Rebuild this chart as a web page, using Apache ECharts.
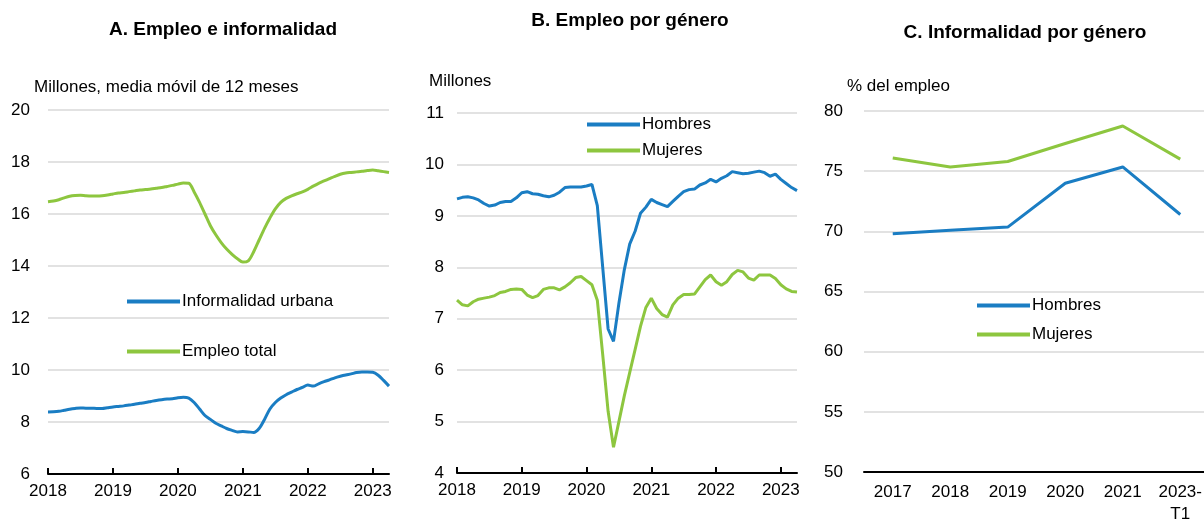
<!DOCTYPE html>
<html lang="es">
<head>
<meta charset="UTF-8">
<title>Empleo e informalidad</title>
<script src="https://cdn.jsdelivr.net/npm/echarts@6/dist/echarts.min.js"></script>
<style>
  * { margin: 0; padding: 0 }
  html, body { width: 100%; height: 100%; background: #fff }
  #main { width: 1204px; height: 522px }
</style>
</head>
<body>
<div id="main"></div>
<script>
// --- data ---
// monthly, 2018-01 .. 2023-04
var months = [];
for (var y = 2018; y <= 2023; y++) {
  for (var m = 1; m <= 12; m++) {
    if (y === 2023 && m > 4) break;
    months.push(y + '-' + (m < 10 ? '0' + m : m));
  }
}

// A. Empleo e informalidad (millones, media movil 12 meses)
var informalUrbana = [
  8.38, 8.39, 8.41, 8.45, 8.49, 8.52, 8.54, 8.53, 8.53, 8.52, 8.52, 8.55,
  8.58, 8.60, 8.62, 8.65, 8.68, 8.72, 8.75, 8.79, 8.83, 8.86, 8.88, 8.89,
  8.93, 8.95, 8.92, 8.75, 8.50, 8.25, 8.10, 7.95, 7.85, 7.75, 7.68, 7.62,
  7.63, 7.62, 7.60, 7.75, 8.10, 8.50, 8.75, 8.92, 9.05, 9.15, 9.25, 9.33,
  9.42, 9.38, 9.47, 9.55, 9.62, 9.70, 9.76, 9.81, 9.85, 9.90, 9.92, 9.92,
  9.91, 9.80, 9.60, 9.38
];
var empleoTotal = [
  16.47, 16.50, 16.55, 16.62, 16.68, 16.71, 16.72, 16.70, 16.69, 16.69, 16.70, 16.73,
  16.77, 16.81, 16.83, 16.86, 16.89, 16.92, 16.94, 16.96, 16.99, 17.02, 17.06, 17.10,
  17.15, 17.19, 17.18, 16.85, 16.45, 16.00, 15.55, 15.20, 14.90, 14.65, 14.45, 14.28,
  14.15, 14.20, 14.55, 15.00, 15.45, 15.85, 16.20, 16.45, 16.60, 16.70, 16.78, 16.85,
  16.95, 17.07, 17.18, 17.27, 17.36, 17.45, 17.53, 17.58, 17.60, 17.62, 17.64, 17.67,
  17.69, 17.66, 17.63, 17.60
];

// B. Empleo por genero (millones)
var empleoHombres = [
  9.33, 9.36, 9.37, 9.35, 9.31, 9.24, 9.19, 9.21, 9.26, 9.28, 9.28, 9.35,
  9.45, 9.47, 9.43, 9.42, 9.39, 9.37, 9.40, 9.46, 9.55, 9.56, 9.56, 9.56,
  9.58, 9.61, 9.20, 8.00, 6.80, 6.56, 7.30, 7.95, 8.45, 8.70, 9.05, 9.17,
  9.32, 9.26, 9.22, 9.18, 9.28, 9.38, 9.47, 9.51, 9.52, 9.60, 9.64, 9.71,
  9.66, 9.73, 9.78, 9.86, 9.84, 9.82, 9.83, 9.85, 9.87, 9.84, 9.77, 9.81,
  9.71, 9.63, 9.55, 9.49
];
var empleoMujeres = [
  7.36, 7.27, 7.25, 7.33, 7.38, 7.40, 7.42, 7.45, 7.51, 7.53, 7.57, 7.58,
  7.57, 7.46, 7.41, 7.45, 7.57, 7.60, 7.60, 7.56, 7.62, 7.70, 7.80, 7.82,
  7.74, 7.66, 7.36, 6.30, 5.20, 4.50, 5.00, 5.50, 5.95, 6.40, 6.85, 7.22,
  7.40, 7.20, 7.08, 7.03, 7.27, 7.40, 7.47, 7.47, 7.48, 7.62, 7.76, 7.85,
  7.72, 7.65, 7.72, 7.86, 7.94, 7.91, 7.79, 7.75, 7.85, 7.85, 7.85, 7.78,
  7.66, 7.58, 7.53, 7.52
];

// C. Informalidad por genero (% del empleo)
var periodosC = ['2017', '2018', '2019', '2020', '2021', '2023-\nT1'];
var informalHombres = [69.8, 70.1, 70.35, 74.0, 75.35, 71.4];
var informalMujeres = [76.1, 75.35, 75.8, 77.3, 78.75, 76.0];

var BLUE = '#1a7dc3';
var GREEN = '#8dc63f';
var FONT = 'Liberation Sans, Arial, sans-serif';

function monthAxis(idx) {
  return {
    type: 'category', gridIndex: idx, data: months, boundaryGap: false,
    axisLine: { lineStyle: { color: '#000', width: 2 } },
    axisTick: { inside: true, length: 6, interval: 11, lineStyle: { color: '#000', width: 2 } },
    axisLabel: {
      interval: 11, color: '#000', fontSize: 17, fontFamily: FONT, margin: 9,
      formatter: function (v) { return v.slice(0, 4); }
    }
  };
}

function valueAxis(idx, min, max, step, margin) {
  return {
    type: 'value', gridIndex: idx, min: min, max: max, interval: step,
    axisLine: { show: false }, axisTick: { show: false },
    axisLabel: { color: '#000', fontSize: 17, fontFamily: FONT, margin: margin },
    splitLine: { lineStyle: { color: '#d9d9d9', width: 1.5 } }
  };
}

function lineSeries(name, data, color, idx, smooth) {
  return {
    name: name, type: 'line', data: data, xAxisIndex: idx, yAxisIndex: idx,
    symbol: 'none', smooth: smooth, color: color,
    lineStyle: { color: color, width: 3 }
  };
}

var legendBase = {
  orient: 'vertical', icon: 'rect', itemWidth: 53, itemHeight: 4,
  textStyle: { color: '#000', fontSize: 17, fontFamily: FONT, padding: [0, 0, 0, -3] }
};

var titleStyle = { fontSize: 19, fontWeight: 'bold', color: '#000', fontFamily: FONT };
var unitStyle = { fontSize: 17, fontWeight: 'normal', color: '#000', fontFamily: FONT };

var myChart = echarts.init(document.getElementById('main'));
var option = {
  animation: false,
  textStyle: { fontFamily: FONT },
  title: [
    { text: 'A. Empleo e informalidad', left: 218, top: 15, textAlign: 'center', textStyle: titleStyle },
    { text: 'B. Empleo por género', left: 625, top: 6, textAlign: 'center', textStyle: titleStyle },
    { text: 'C. Informalidad por género', left: 1020, top: 18, textAlign: 'center', textStyle: titleStyle },
    { text: 'Millones, media móvil de 12 meses', left: 29, top: 74, textStyle: unitStyle },
    { text: 'Millones', left: 424, top: 68, textStyle: unitStyle },
    { text: '% del empleo', left: 842, top: 73, textStyle: unitStyle }
  ],
  legend: [
    Object.assign({}, legendBase, { left: 122, top: 288, itemGap: 33,
      data: ['Informalidad urbana', 'Empleo total'] }),
    Object.assign({}, legendBase, { left: 582, top: 111, itemGap: 9,
      data: ['Hombres', 'Mujeres'] }),
    Object.assign({}, legendBase, { left: 972, top: 292, itemGap: 12,
      data: ['Hombres ', 'Mujeres '] })
  ],
  grid: [
    { left: 48, top: 110, width: 341, height: 364, outerBoundsMode: 'none' },
    { left: 457, top: 113, width: 340, height: 360, outerBoundsMode: 'none' },
    { left: 864, top: 111, width: 345, height: 361, outerBoundsMode: 'none' }
  ],
  xAxis: [
    monthAxis(0),
    monthAxis(1),
    {
      type: 'category', gridIndex: 2, data: periodosC,
      axisLine: { lineStyle: { color: '#000', width: 2 } },
      axisTick: { inside: true, length: 6, lineStyle: { color: '#000', width: 2 } },
      axisLabel: { color: '#000', fontSize: 17, fontFamily: FONT, margin: 9, lineHeight: 22 }
    }
  ],
  yAxis: [
    valueAxis(0, 6, 20, 2, 18),
    valueAxis(1, 4, 11, 1, 13),
    valueAxis(2, 50, 80, 5, 21)
  ],
  series: [
    lineSeries('Empleo total', empleoTotal, GREEN, 0, 0.3),
    lineSeries('Informalidad urbana', informalUrbana, BLUE, 0, 0.3),
    lineSeries('Mujeres', empleoMujeres, GREEN, 1, false),
    lineSeries('Hombres', empleoHombres, BLUE, 1, false),
    lineSeries('Mujeres ', informalMujeres, GREEN, 2, false),
    lineSeries('Hombres ', informalHombres, BLUE, 2, false)
  ]
};
myChart.setOption(option);
</script>
</body>
</html>
